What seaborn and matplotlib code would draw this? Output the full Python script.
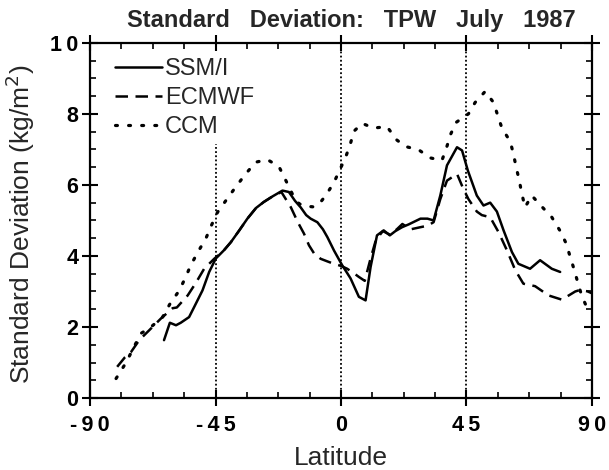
import pandas as pd
import seaborn as sns
import matplotlib.pyplot as plt
from matplotlib.ticker import MultipleLocator

# SSM/I (solid)
ssmi_lat = [-63.5, -61.4, -59.2, -57.5, -54.5, -52.7, -49.7, -47.3, -44.9, -42.0,
            -39.5, -36.5, -33.6, -30.5, -27.7, -24.5, -21.0, -18.7, -16.5, -14.5,
            -12.5, -10.9, -8.5, -6.5, -4.9, -2.5, 0.4, 3.4, 6.4, 8.8,
            10.6, 12.9, 15.3, 17.5, 19.5, 21.9, 24.3, 28.5, 31.0, 33.2,
            35.6, 38.0, 41.6, 43.4, 45.5, 48.7, 51.1, 53.5, 55.9, 58.3,
            61.3, 63.6, 67.8, 71.4, 75.6, 78.6]
ssmi_sd = [1.63, 2.12, 2.05, 2.12, 2.28, 2.56, 3.03, 3.55, 3.93, 4.16,
           4.39, 4.72, 5.05, 5.35, 5.52, 5.68, 5.84, 5.80, 5.55, 5.37,
           5.15, 5.05, 4.95, 4.75, 4.53, 4.15, 3.74, 3.37, 2.85, 2.75,
           3.69, 4.58, 4.72, 4.58, 4.70, 4.81, 4.89, 5.05, 5.05, 5.00,
           5.70, 6.55, 7.06, 6.97, 6.40, 5.70, 5.42, 5.50, 5.25, 4.72,
           4.11, 3.78, 3.64, 3.88, 3.64, 3.55]

# ECMWF (dashed)
ecmwf_lat = [-80.3, -77.5, -75.3, -72.4, -68.8, -64.6, -60.4, -58.9, -55.0, -52.1,
             -49.1, -45.5, -42.0, -39.5, -36.5, -33.6, -30.5, -27.7, -24.5, -21.4,
             -18.0, -15.5, -13.3, -11.5, -9.5, -7.3, -5.0, -2.6, 0.0, 2.2,
             4.5, 6.4, 8.5, 10.5, 12.5, 15.0, 17.5, 20.0, 22.0, 25.0,
             28.5, 31.0, 33.2, 35.6, 38.0, 41.6, 43.8, 45.7, 48.7, 50.5,
             53.5, 56.5, 59.5, 62.5, 65.4, 69.6, 74.4, 79.2, 84.0, 86.0,
             88.5, 90.0]
ecmwf_sd = [0.88, 1.15, 1.30, 1.63, 1.91, 2.24, 2.53, 2.55, 2.89, 3.24,
            3.64, 3.92, 4.16, 4.39, 4.72, 5.05, 5.35, 5.52, 5.68, 5.80,
            5.37, 4.95, 4.63, 4.30, 4.05, 3.92, 3.85, 3.78, 3.72, 3.64,
            3.52, 3.41, 3.30, 3.90, 4.45, 4.70, 4.60, 4.75, 4.90, 4.75,
            4.81, 4.85, 4.95, 5.60, 6.12, 6.31, 5.90, 5.60, 5.25, 5.15,
            5.09, 4.67, 4.16, 3.60, 3.22, 3.15, 2.89, 2.77, 3.00, 3.05,
            3.00, 2.95]

# CCM (dotted)
ccm_lat = [-80.7, -77.1, -75.3, -71.8, -68.8, -64.0, -61.3, -58.0, -55.7, -53.9,
           -51.2, -48.5, -46.5, -44.3, -41.3, -37.8, -34.2, -30.6, -26.4, -22.3,
           -19.9, -17.5, -15.1, -12.5, -9.7, -7.5, -5.5, -2.6, 1.6, 3.3,
           4.6, 7.6, 11.7, 16.5, 19.9, 23.1, 27.8, 32.0, 36.2, 37.8,
           39.4, 41.3, 45.7, 48.1, 51.7, 54.7, 56.1, 57.7, 60.7, 61.9,
           62.8, 63.9, 64.8, 66.0, 68.4, 72.0, 75.6, 78.7, 80.7, 82.1,
           83.6, 84.9, 86.3, 88.5]
ccm_sd = [0.55, 1.00, 1.28, 1.82, 1.96, 2.28, 2.66, 3.03, 3.41, 3.74,
          4.13, 4.49, 4.86, 5.23, 5.56, 5.94, 6.31, 6.64, 6.71, 6.52,
          6.14, 5.75, 5.47, 5.40, 5.38, 5.50, 5.70, 6.06, 6.77, 7.14,
          7.51, 7.73, 7.60, 7.64, 7.27, 7.08, 6.99, 6.76, 6.69, 7.04,
          7.44, 7.76, 8.00, 8.32, 8.63, 8.32, 7.98, 7.60, 7.22, 6.85,
          6.50, 6.14, 5.77, 5.37, 5.70, 5.39, 5.09, 4.69, 4.36, 4.00,
          3.62, 3.26, 2.89, 2.49]

x_ticks = [-90, -45, 0, 45, 90]
y_ticks = [0, 2, 4, 6, 8, 10]

sns.set_theme(style="ticks")
plt.rcParams["font.family"] = ["Liberation Sans", "DejaVu Sans"]
plt.rcParams["axes.unicode_minus"] = False

fig = plt.figure(figsize=(6.09, 4.70), dpi=100)
ax = fig.add_axes([0.148, 0.153, 0.824, 0.756])

# dotted reference lines
ax.axvline(-45, ymin=0, ymax=0.715, color="black", linestyle=(0, (1, 1.3)), linewidth=1.3)
ax.axvline(0, color="black", linestyle=(0, (1, 1.3)), linewidth=1.3)
ax.axvline(45, color="black", linestyle=(0, (1, 1.3)), linewidth=1.3)

sns.lineplot(x=ssmi_lat, y=ssmi_sd, ax=ax, color="black", linewidth=1.8,
             label="SSM/I", estimator=None)
sns.lineplot(x=ecmwf_lat, y=ecmwf_sd, ax=ax, color="black", linewidth=1.8,
             linestyle=(0, (5, 3)), label="ECMWF", estimator=None)
sns.lineplot(x=ccm_lat, y=ccm_sd, ax=ax, color="black", linewidth=2.3,
             linestyle=(0, (0.6, 3.5)), dash_capstyle="round", label="CCM",
             estimator=None)

# spaced-out tick labels like the scan
def spaced(v):
    return "\u2009".join(str(v))

ax.set_xlim(-90, 90)
ax.set_ylim(0, 10)
ax.set_xticks(x_ticks)
ax.set_yticks(y_ticks)
ax.set_xticklabels([spaced(t) for t in x_ticks], fontsize=15.5, fontweight="bold")
ax.set_yticklabels([spaced(t) for t in y_ticks], fontsize=15.5, fontweight="bold")
ax.xaxis.set_minor_locator(MultipleLocator(11.25))
ax.yaxis.set_minor_locator(MultipleLocator(0.5))
ax.tick_params(which="major", direction="inout", length=11, width=1.5,
               top=True, right=True, colors="black")
ax.tick_params(which="minor", direction="in", length=4, width=1.2,
               top=True, right=True, colors="black")
ax.tick_params(axis="x", which="major", pad=7)
ax.tick_params(axis="y", which="major", pad=3)

for s in ax.spines.values():
    s.set_visible(True)
    s.set_color("black")
    s.set_linewidth(1.6)

ax.set_xlabel("Latitude", fontsize=19, labelpad=7)
ax.set_ylabel("Standard Deviation (kg/m$^2$)", fontsize=19)
ax.yaxis.set_label_coords(-0.106, 0.49)
ax.set_title("Standard   Deviation:   TPW   July   1987", fontsize=17,
             fontweight="bold", pad=11, x=0.52)

ax.legend(loc="upper left", frameon=False, fontsize=17,
          handlelength=2.0, handletextpad=0.1, labelspacing=0.3,
          borderaxespad=0.4, bbox_to_anchor=(0.012, 1.01))

fig.savefig("out.png", dpi=100, facecolor="white")
